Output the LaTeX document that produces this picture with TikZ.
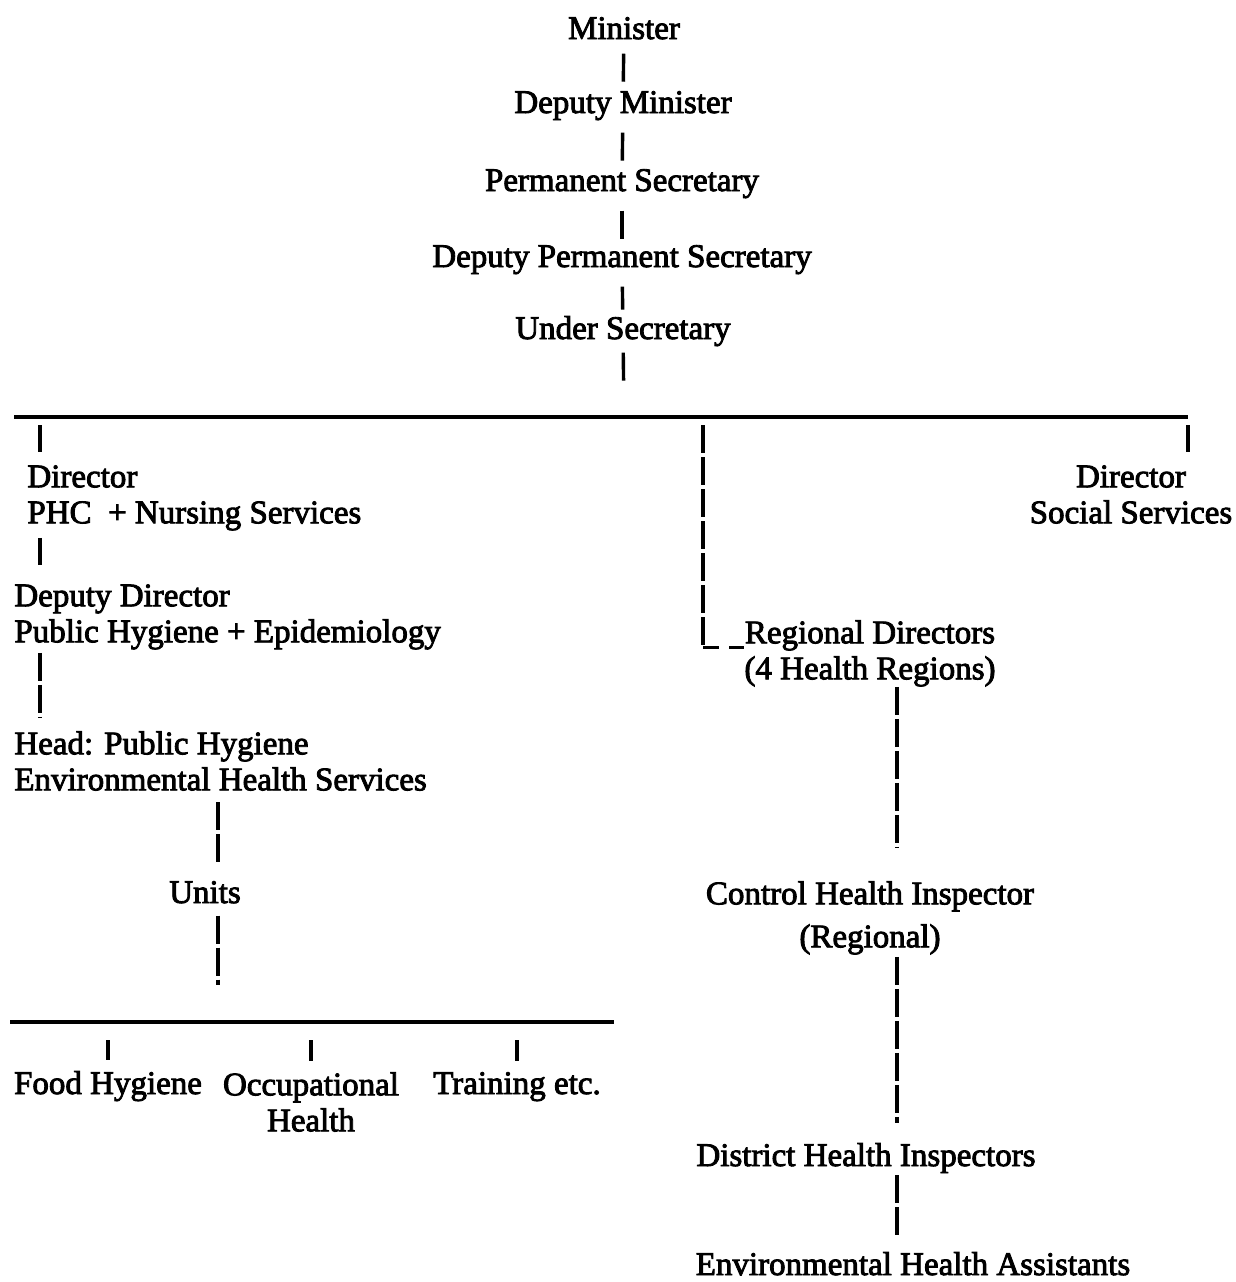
\documentclass[tikz,border=0pt]{standalone}
\usepackage{fontspec}
\setmainfont{Liberation Serif}
\newfontfamily\chartfont[FakeBold=2.6]{Liberation Serif}
\usetikzlibrary{positioning}

\begin{document}
\begin{tikzpicture}[x=0.5pt, y=-0.5pt,
    every node/.style={inner sep=0pt, font=\chartfont\fontsize{16.5}{18}\selectfont},
    bar/.style={line width=1.7pt, dash pattern=on 14pt off 2pt},
    under/.style={line width=1.5pt, dash pattern=on 8pt off 5pt},
    rule/.style={line width=1.6pt}]
    \useasboundingbox (0,0) rectangle (1236,1282);

    % top of the ministry
    \node[anchor=base] (min) at (624, 39) {Minister};
    \node[anchor=base] (depmin) at (623, 113) {Deputy Minister};
    \node[anchor=base] (permsec) at (622, 191) {Permanent Secretary};
    \node[anchor=base] (deppermsec) at (622, 267) {Deputy Permanent Secretary};
    \node[anchor=base] (undersec) at (623, 339) {Under Secretary};

    \draw[bar, shorten <=7pt, shorten >=3pt] (min) -- (depmin);
    \draw[bar, shorten <=6pt, shorten >=3pt] (depmin) -- (permsec);
    \draw[bar, shorten <=6pt, shorten >=3pt] (permsec) -- (deppermsec);
    \draw[bar, shorten <=6pt, shorten >=3pt] (deppermsec) -- (undersec);

    \coordinate (busL) at (14, 417);
    \coordinate (busR) at (1188, 417);
    \coordinate (busC) at (624, 417);
    \coordinate (jL) at (40, 417);
    \coordinate (jM) at (703, 417);
    \coordinate (jR) at (1188, 417);
    \draw[rule] (busL) -- (busR);
    \draw[bar, shorten <=3pt, shorten >=18pt] (undersec) -- (busC);

    % left branch
    \node[anchor=north west, align=left] (dirphc) at (27, 465)
        {Director\\PHC~ + Nursing Services};
    \node[anchor=north west, align=left] (depdir) at (14, 584)
        {Deputy Director\\Public Hygiene + Epidemiology};
    \node[anchor=north west, align=left] (head) at (14, 731)
        {Head: Public Hygiene\\Environmental Health Services};
    \node[anchor=base] (units) at (205, 903) {Units};
    \coordinate (uspine) at (218, 903);

    \draw[bar, shorten <=4pt, shorten >=6.5pt] (jL) -- (jL |- dirphc.north);
    \draw[bar, shorten <=3.5pt, shorten >=9.5pt] (jL |- dirphc.south) -- (jL |- depdir.north);
    \draw[bar, shorten <=1.5pt, shorten >=7pt] (jL |- depdir.south) -- (jL |- head.north);
    \draw[bar, shorten <=5.5pt, shorten >=9.5pt] (uspine |- head.south) -- (uspine |- units.north);

    % units
    \coordinate (ubL) at (10, 1022);
    \coordinate (ubR) at (614, 1022);
    \draw[rule] (ubL) -- (ubR);
    \draw[bar, shorten <=6pt, shorten >=18.5pt] (uspine |- units.south) -- (uspine |- ubL);

    \node[anchor=base] (food) at (108, 1094) {Food Hygiene};
    \node[anchor=north, align=center] (occ) at (311, 1072) {Occupational\\Health};
    \node[anchor=base] (train) at (517, 1094) {Training etc.};

    \draw[bar, shorten <=9pt, shorten >=5.5pt] (food.north |- ubL) -- (food.north);
    \draw[bar, shorten <=9pt, shorten >=5.5pt] (occ.north |- ubL) -- (occ.north);
    \draw[bar, shorten <=9pt, shorten >=5.5pt] (train.north |- ubL) -- (train.north);

    % right branch
    \node[anchor=north, align=center] (dirsoc) at (1131, 465)
        {Director\\Social Services};
    \draw[bar, shorten <=4pt, shorten >=6.5pt] (jR) -- (jR |- dirsoc.north);

    % regions
    \node[anchor=north, align=center] (regdir) at (870, 620)
        {Regional Directors\\(4 Health Regions)};
    \node[anchor=north, align=center] (cthi) at (870, 881)
        {Control Health Inspector\\[3.5pt](Regional)};
    \node[anchor=base] (dhi) at (866, 1166) {District Health Inspectors};
    \node[anchor=base] (eha) at (913, 1275) {Environmental Health Assistants};
    \coordinate (spine) at (897, 900);
    \coordinate (rdc) at ([yshift=3pt]regdir.west);

    \draw[bar, shorten <=4pt] (jM) -- (jM |- rdc);
    \draw[under] (jM |- rdc) -- (rdc);
    \draw[bar, shorten >=17pt] (spine |- regdir.south) -- (spine |- cthi.north);
    \draw[bar, shorten <=1pt, shorten >=10pt] (spine |- cthi.south) -- (spine |- dhi.north);
    \draw[bar, shorten <=1pt, shorten >=8pt] (spine |- dhi.south) -- (spine |- eha.north);
\end{tikzpicture}
\end{document}
